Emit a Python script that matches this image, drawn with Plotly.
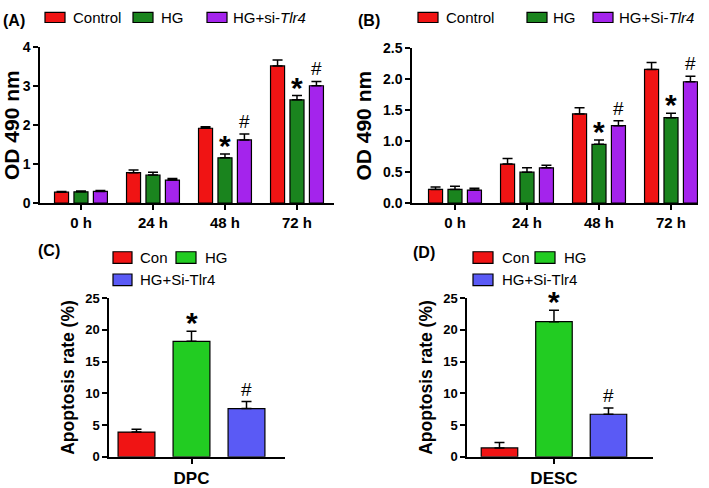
import plotly.graph_objects as go

W, H = 709, 488

# ---------------- data ----------------
times = ["0 h", "24 h", "48 h", "72 h"]
series_ab = ["Control", "HG", "HG+si-Tlr4"]

a_control = [0.28, 0.78, 1.92, 3.52]
a_control_err = [0.02, 0.07, 0.04, 0.15]
a_hg = [0.29, 0.72, 1.16, 2.65]
a_hg_err = [0.02, 0.07, 0.10, 0.11]
a_si = [0.30, 0.59, 1.62, 3.01]
a_si_err = [0.02, 0.04, 0.15, 0.11]

b_control = [0.22, 0.63, 1.44, 2.16]
b_control_err = [0.04, 0.09, 0.10, 0.11]
b_hg = [0.22, 0.50, 0.95, 1.38]
b_hg_err = [0.05, 0.07, 0.07, 0.07]
b_si = [0.21, 0.57, 1.25, 1.96]
b_si_err = [0.03, 0.04, 0.08, 0.09]

c_cat = ["DPC"]
c_con, c_con_err = [3.9], [0.45]
c_hg, c_hg_err = [18.2], [1.6]
c_si, c_si_err = [7.6], [1.1]

d_cat = ["DESC"]
d_con, d_con_err = [1.4], [0.85]
d_hg, d_hg_err = [21.3], [1.8]
d_si, d_si_err = [6.7], [1.0]

RED = "#f01414"
DGREEN = "#1a841e"
PURPLE = "#a424ec"
LGREEN = "#22cc22"
BLUE = "#5a5af5"

FONT = "Liberation Sans, Arial, sans-serif"


def px(x):
    return x / W


def py(y):
    return 1 - y / H


fig = go.Figure()


def add_bar(x, y, err, color, xa, ya, width, offset):
    fig.add_trace(go.Bar(
        x=x, y=y, width=width, offset=offset,
        marker=dict(color=color, line=dict(color="black", width=1.2)),
        error_y=dict(type="data", array=err, arrayminus=[0] * len(err),
                     symmetric=False, color="black", thickness=1.5, width=5),
        xaxis=xa, yaxis=ya, showlegend=False,
    ))


# Panel A
bw, st = 0.195, 0.27
for k, (vals, errs, col) in enumerate([(a_control, a_control_err, RED),
                                       (a_hg, a_hg_err, DGREEN),
                                       (a_si, a_si_err, PURPLE)]):
    add_bar(times, vals, errs, col, "x", "y", bw, -bw / 2 + (k - 1) * st)
# Panel B
for k, (vals, errs, col) in enumerate([(b_control, b_control_err, RED),
                                       (b_hg, b_hg_err, DGREEN),
                                       (b_si, b_si_err, PURPLE)]):
    add_bar(times, vals, errs, col, "x2", "y2", bw, -bw / 2 + (k - 1) * st)
# Panel C
cw = 0.67
for k, (vals, errs, col) in enumerate([(c_con, c_con_err, RED),
                                       (c_hg, c_hg_err, LGREEN),
                                       (c_si, c_si_err, BLUE)]):
    add_bar(c_cat, vals, errs, col, "x3", "y3", cw, -cw / 2 + (k - 1))
# Panel D
for k, (vals, errs, col) in enumerate([(d_con, d_con_err, RED),
                                       (d_hg, d_hg_err, LGREEN),
                                       (d_si, d_si_err, BLUE)]):
    add_bar(d_cat, vals, errs, col, "x4", "y4", cw, -cw / 2 + (k - 1))

axis_common = dict(showline=True, linecolor="black", linewidth=1.5,
                   ticks="outside", ticklen=5, tickwidth=1.5, tickcolor="black",
                   showgrid=False, zeroline=False, fixedrange=True)

tickfont = dict(family=FONT, size=14, color="black", weight="bold")
ctickfont = dict(family=FONT, size=13, color="black", weight="bold")
xtickfont = dict(family=FONT, size=15, color="black", weight="bold")
cxtickfont = dict(family=FONT, size=17, color="black", weight="bold")
od_title = dict(family=FONT, size=21, weight="bold")
ap_title = dict(family=FONT, size=17.5, weight="bold")

fig.update_layout(
    width=W, height=H, margin=dict(l=0, r=0, t=0, b=0),
    paper_bgcolor="white", plot_bgcolor="white",
    barmode="overlay", showlegend=False,
    font=dict(family=FONT, color="black"),
    xaxis=dict(domain=[px(40), px(334)], anchor="y", type="category",
               range=[-0.569, 3.514], tickfont=xtickfont, **axis_common),
    yaxis=dict(domain=[py(201.7), py(40.5)], anchor="x", range=[0, 4],
               tickvals=[0, 1, 2, 3, 4], tickfont=tickfont,
               title=dict(text="OD 490 nm", font=od_title, standoff=6),
               **axis_common),
    xaxis2=dict(domain=[px(412), px(698)], anchor="y2", type="category",
                range=[-0.597, 3.375], tickfont=xtickfont, **axis_common),
    yaxis2=dict(domain=[py(201.7), py(41.7)], anchor="x2", range=[0, 2.5],
                tickvals=[0, 0.5, 1.0, 1.5, 2.0, 2.5], tickformat=".1f", tickfont=tickfont,
                title=dict(text="OD 490 nm", font=od_title, standoff=6),
                **axis_common),
    xaxis3=dict(domain=[px(109), px(285)], anchor="y3", type="category",
                range=[-1.5, 1.7], tickfont=cxtickfont, **axis_common),
    yaxis3=dict(domain=[py(464), py(300)], anchor="x3", range=[0, 25],
                tickvals=[0, 5, 10, 15, 20, 25], tickfont=ctickfont,
                title=dict(text="Apoptosis rate (%)", font=ap_title, standoff=6),
                **axis_common),
    xaxis4=dict(domain=[px(467), px(653)], anchor="y4", type="category",
                range=[-1.596, 1.817], tickfont=cxtickfont, **axis_common),
    yaxis4=dict(domain=[py(464), py(300)], anchor="x4", range=[0, 25],
                tickvals=[0, 5, 10, 15, 20, 25], tickfont=ctickfont,
                title=dict(text="Apoptosis rate (%)", font=ap_title, standoff=6),
                **axis_common),
)

shapes = []
annotations = []


def swatch(x0, y0, x1, y1, color):
    shapes.append(dict(type="rect", xref="paper", yref="paper",
                       x0=px(x0), x1=px(x1), y0=py(y1), y1=py(y0),
                       fillcolor=color, line=dict(color="black", width=1.2)))


def label(x, y, text, size=15, bold=False, xanchor="left"):
    annotations.append(dict(xref="paper", yref="paper", x=px(x), y=py(y), text=text,
                            showarrow=False, xanchor=xanchor, yanchor="middle",
                            font=dict(family=FONT, size=size, color="black",
                                      weight="bold" if bold else "normal")))


# Panel labels
label(1, 12.5, "(A)", 16, True)
label(356, 12.5, "(B)", 16, True)
label(36, 251, "(C)", 16, True)
label(411, 253, "(D)", 16, True)

# Legend A
swatch(45, 4.5, 65, 15, RED); label(71, 10, "Control")
swatch(133, 4.5, 153, 15, DGREEN); label(159, 10, "HG")
swatch(207, 4.5, 227, 15, PURPLE); label(231, 10, "HG+si-<i>Tlr4</i>")
# Legend B
swatch(418, 4.5, 438, 15, RED); label(444, 10, "Control")
swatch(527, 4.5, 547, 15, DGREEN); label(551, 10, "HG")
swatch(593, 4.5, 613, 15, PURPLE); label(617, 10, "HG+Si-<i>Tlr4</i>")
# Legend C
swatch(113, 252, 132, 264, RED); label(138, 258, "Con")
swatch(176, 252, 196, 264, LGREEN); label(203, 258, "HG")
swatch(113, 275, 132, 287, BLUE); label(138, 281, "HG+Si-Tlr4")
# Legend D
swatch(473, 252, 493, 264, RED); label(500, 258, "Con")
swatch(535, 252, 555, 264, LGREEN); label(562, 258, "HG")
swatch(473, 275, 493, 287, BLUE); label(500, 281, "HG+Si-Tlr4")


def mark(xa, ya, cat, val, err, sym, shift_px, ypad):
    annotations.append(dict(xref=xa, yref=ya, x=cat, y=val + err, text=sym,
                            showarrow=False, xanchor="center", yanchor="bottom",
                            xshift=shift_px, yshift=ypad,
                            font=dict(family=FONT, size=30 if sym == "*" else 19,
                                      color="black", weight="bold" if sym == "*" else "normal")))


# Significance marks (48 h, 72 h)
for i in (2, 3):
    mark("x", "y", times[i], a_hg[i], a_hg_err[i], "*", 0, -10)
    mark("x", "y", times[i], a_si[i], a_si_err[i], "#", 19.5, 0)
    mark("x2", "y2", times[i], b_hg[i], b_hg_err[i], "*", 0, -10)
    mark("x2", "y2", times[i], b_si[i], b_si_err[i], "#", 19.5, 0)
mark("x3", "y3", c_cat[0], c_hg[0], c_hg_err[0], "*", 0, -10)
mark("x3", "y3", c_cat[0], c_si[0], c_si_err[0], "#", 55, 0)
mark("x4", "y4", d_cat[0], d_hg[0], d_hg_err[0], "*", 0, -10)
mark("x4", "y4", d_cat[0], d_si[0], d_si_err[0], "#", 54.5, 0)

fig.update_layout(shapes=shapes, annotations=annotations)
fig.write_html("out.html", config={"displayModeBar": False},
               post_script="document.body.style.margin='0';document.body.style.overflow='hidden';")
